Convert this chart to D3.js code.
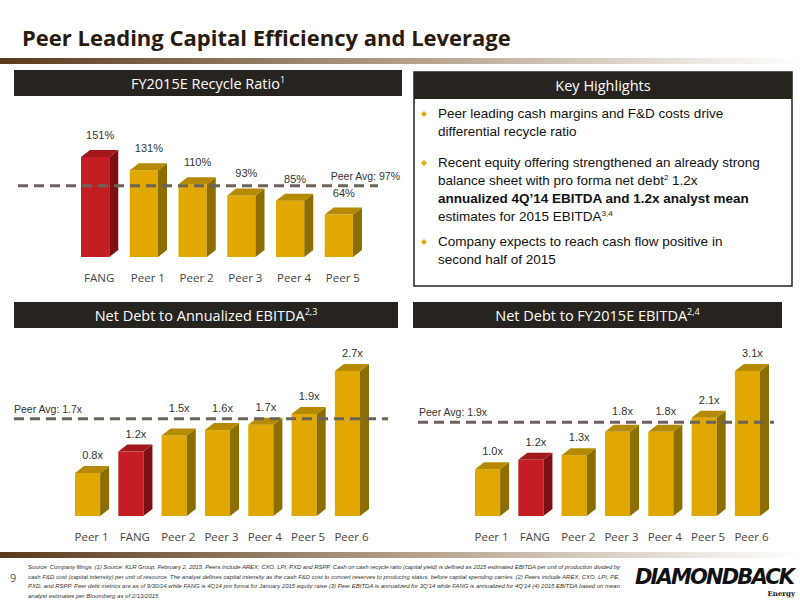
<!DOCTYPE html>
<html>
<head>
<meta charset="utf-8">
<script src="https://cdn.jsdelivr.net/npm/d3@7"></script>
<style>
  body { margin: 0; background: #fff; }
  svg { display: block; }
</style>
</head>
<body>
<div id="chart"></div>
<script>
// chart data
var recycleCats = ["FANG", "Peer 1", "Peer 2", "Peer 3", "Peer 4", "Peer 5"];
var recycleVals = [151, 131, 110, 93, 85, 64];
var recycleAvg = 97;

var annCats = ["Peer 1", "FANG", "Peer 2", "Peer 3", "Peer 4", "Peer 5", "Peer 6"];
var annVals = [0.8, 1.2, 1.5, 1.6, 1.7, 1.9, 2.7];
var annAvg = 1.7;

var fyCats = ["Peer 1", "FANG", "Peer 2", "Peer 3", "Peer 4", "Peer 5", "Peer 6"];
var fyVals = [1.0, 1.2, 1.3, 1.8, 1.8, 2.1, 3.1];
var fyAvg = 1.9;

var svg = d3.select("#chart").append("svg").attr("width", 800).attr("height", 600);
var defs = svg.append("defs");

var g1 = defs.append("linearGradient").attr("id", "rule");
g1.append("stop").attr("offset", "0%").attr("stop-color", "#5a3a1c");
g1.append("stop").attr("offset", "55%").attr("stop-color", "#b9a792");
g1.append("stop").attr("offset", "100%").attr("stop-color", "#ffffff");

// title
svg.append("text").attr("x", 22).attr("y", 46)
  .style("font-family", "Open Sans, sans-serif").style("font-weight", "bold")
  .style("font-size", "22px").style("fill", "#2a1a0c")
  .text("Peer Leading Capital Efficiency and Leverage");
svg.append("rect").attr("x", 0).attr("y", 58).attr("width", 800).attr("height", 6).attr("fill", "url(#rule)");
svg.append("rect").attr("x", 0).attr("y", 552).attr("width", 800).attr("height", 6).attr("fill", "url(#rule)");

function header(x, y, w, txt, sup) {
  svg.append("rect").attr("x", x).attr("y", y).attr("width", w).attr("height", 26).attr("fill", "#27231e");
  var t = svg.append("text").attr("x", x + w / 2).attr("y", y + 19)
    .attr("text-anchor", "middle").style("font-family", "Open Sans, sans-serif")
    .style("font-size", "14.5px").style("fill", "#fff").text(txt);
  if (sup) t.append("tspan").attr("dy", -6).style("font-size", "9px").text(sup);
}

function bars3d(cats, vals, avg, opt) {
  var x = d3.scaleBand().domain(cats).range([opt.x0, opt.x1]).paddingInner(opt.pad).paddingOuter(0);
  var y = d3.scaleLinear().domain([0, opt.max]).range([opt.base, opt.top]);
  var g = svg.append("g");
  var dx = 9, dy = 7;
  var ay = y(avg) + opt.lineOff;
  cats.forEach(function(c, i) {
    var red = c === "FANG";
    var front = red ? "#c41e24" : "#e0a800";
    var side = red ? "#7d1014" : "#8c6d00";
    var topc = red ? "#a3181d" : "#b58a00";
    var bx = x(c), bw = x.bandwidth(), by = y(vals[i]), bb = y(0);
    g.append("rect").attr("x", bx).attr("y", by).attr("width", bw).attr("height", bb - by).attr("fill", front);
    g.append("path").attr("fill", side)
      .attr("d", "M" + (bx + bw) + "," + by + "L" + (bx + bw + dx) + "," + (by - dy) + "L" + (bx + bw + dx) + "," + (bb - dy) + "L" + (bx + bw) + "," + bb + "Z");
    g.append("path").attr("fill", topc)
      .attr("d", "M" + bx + "," + by + "L" + (bx + dx) + "," + (by - dy) + "L" + (bx + bw + dx) + "," + (by - dy) + "L" + (bx + bw) + "," + by + "Z");
    var ly = by - dy - opt.lblGap;
    if (opt.clamp && ly > ay - 6 && ly < ay + 14) ly = ay - 7;
    g.append("text").attr("x", bx + bw / 2 + 5).attr("y", ly)
      .attr("text-anchor", "middle").style("font-family", "Liberation Sans, Arial, sans-serif")
      .style("font-size", "11px").style("fill", "#333").text(opt.fmt(vals[i]));
    g.append("text").attr("x", bx + bw / 2 + 4).attr("y", opt.base + 25)
      .attr("text-anchor", "middle").style("font-family", "Open Sans, sans-serif")
      .style("font-size", "11.5px").style("fill", "#444").text(c);
  });
  g.append("line").attr("x1", opt.lx0).attr("x2", opt.lx1).attr("y1", ay).attr("y2", ay)
    .attr("stroke", "#6b6358").attr("stroke-width", 3).attr("stroke-dasharray", "10,6");
  g.append("text").attr("x", opt.ax).attr("y", ay - 6).attr("text-anchor", opt.aanchor)
    .style("font-family", "Liberation Sans, Arial, sans-serif").style("font-size", "10.5px")
    .style("fill", "#333").text(opt.atxt);
}

header(14, 70, 388, "FY2015E Recycle Ratio", "1");
bars3d(recycleCats, recycleVals, recycleAvg, {
  x0: 81, x1: 353, pad: 0.42, base: 257, top: 157, max: 151, lblGap: 11, lineOff: -7, clamp: false,
  fmt: function(d) { return d + "%"; },
  lx0: 18, lx1: 378, ax: 400, aanchor: "end", atxt: "Peer Avg: 97%"
});

header(14, 302, 384, "Net Debt to Annualized EBITDA", "2,3");
bars3d(annCats, annVals, annAvg, {
  x0: 75, x1: 360, pad: 0.42, base: 516, top: 371, max: 2.7, lblGap: 7, lineOff: -6, clamp: true,
  fmt: function(d) { return d.toFixed(1) + "x"; },
  lx0: 14, lx1: 388, ax: 14, aanchor: "start", atxt: "Peer Avg: 1.7x"
});

header(413, 302, 369, "Net Debt to FY2015E EBITDA", "2,4");
bars3d(fyCats, fyVals, fyAvg, {
  x0: 475, x1: 760, pad: 0.42, base: 516, top: 371, max: 3.1, lblGap: 7, lineOff: -5, clamp: true,
  fmt: function(d) { return d.toFixed(1) + "x"; },
  lx0: 418, lx1: 774, ax: 419, aanchor: "start", atxt: "Peer Avg: 1.9x"
});

// key highlights
svg.append("rect").attr("x", 414).attr("y", 72).attr("width", 378).attr("height", 214)
  .attr("fill", "#fff").attr("stroke", "#27231e").attr("stroke-width", 1.5);
svg.append("rect").attr("x", 414).attr("y", 72).attr("width", 378).attr("height", 27).attr("fill", "#27231e");
svg.append("text").attr("x", 603).attr("y", 91).attr("text-anchor", "middle")
  .style("font-family", "Open Sans, sans-serif").style("font-size", "14.5px").style("fill", "#fff").text("Key Highlights");

var bullets = [
  { y: 118, lines: [["Peer leading cash margins and F&D costs drive"], ["differential recycle ratio"]] },
  { y: 167, lines: [["Recent equity offering strengthened an already strong"],
    ["balance sheet with pro forma net debt", "2", " 1.2x"],
    ["annualized 4Q\u201914 EBITDA and 1.2x analyst mean", "", "", "b"],
    ["estimates for 2015 EBITDA", "3,4"]] },
  { y: 246, lines: [["Company expects to reach cash flow positive in"], ["second half of 2015"]] }
];
bullets.forEach(function(b) {
  svg.append("path").attr("transform", "translate(424," + (b.y - 4) + ")")
    .attr("d", "M0,-3L3,0L0,3L-3,0Z").attr("fill", "#e0a800");
  b.lines.forEach(function(l, i) {
    var t = svg.append("text").attr("x", 438).attr("y", b.y + i * 18)
      .style("font-family", "Liberation Sans, Arial, sans-serif").style("font-size", "13.5px")
      .style("fill", "#111").style("font-weight", l[3] === "b" ? "bold" : "normal").text(l[0]);
    if (l[1]) t.append("tspan").attr("dy", -5).style("font-size", "8px").text(l[1]);
    if (l[2]) t.append("tspan").attr("dy", 5).text(l[2]);
  });
});

// footer
svg.append("text").attr("x", 10).attr("y", 582).style("font-family", "Open Sans, sans-serif")
  .style("font-size", "11px").style("fill", "#555").text("9");
var foot = [
  "Source: Company filings. (1) Source: KLR Group, February 2, 2015.  Peers include AREX, CXO, LPI, PXD and RSPP.  Cash on cash recycle ratio (capital yield) is defined as 2015 estimated EBITDA per unit of production divided by",
  "cash F&D cost (capital intensity) per unit of resource.  The analyst defines capital intensity as the cash F&D cost to convert reserves to producing status, before capital spending carries. (2) Peers include AREX, CXO, LPI, PE,",
  "PXD, and RSPP. Peer debt metrics are as of 9/30/14 while FANG is 4Q14 pro forma for January 2015 equity raise (3) Peer EBITDA is annualized  for 3Q'14 while FANG is annualized for 4Q'14 (4) 2015 EBITDA based on mean",
  "analyst estimates per Bloomberg as of 2/13/2015"
];
foot.forEach(function(s, i) {
  svg.append("text").attr("x", 28).attr("y", 569 + i * 9.5)
    .style("font-family", "Liberation Sans Narrow, Liberation Sans, sans-serif").style("font-style", "italic")
    .style("font-size", "6px").style("fill", "#333").attr("textLength", i < 3 ? 592 : null).text(s);
});
svg.append("text").attr("x", 795).attr("y", 584).attr("text-anchor", "end")
  .style("font-family", "DejaVu Sans, sans-serif").style("font-weight", "bold").style("font-style", "italic")
  .style("font-size", "21px").style("fill", "#111").attr("textLength", 160).text("DIAMONDBACK");
svg.append("text").attr("x", 795).attr("y", 596).attr("text-anchor", "end")
  .style("font-family", "DejaVu Serif, serif").style("font-weight", "bold")
  .style("font-size", "7px").style("fill", "#111").text("Energy");
</script>
</body>
</html>
